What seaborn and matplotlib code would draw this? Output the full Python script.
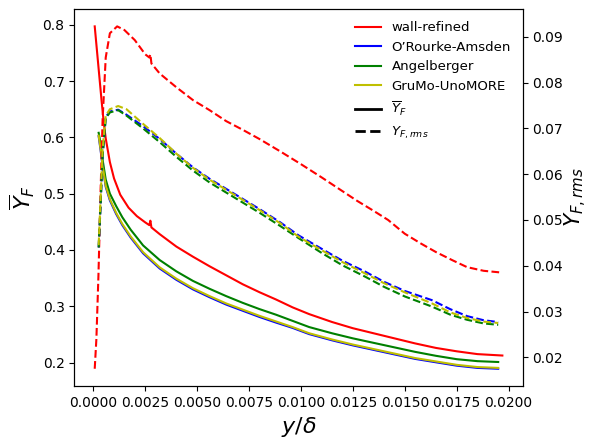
import numpy as np
import matplotlib
matplotlib.use("Agg")
import matplotlib.pyplot as plt
from matplotlib.lines import Line2D
import seaborn as sns

# mean fuel mass fraction (left axis)
x_wr_mean = [0.00007, 0.0002, 0.0003, 0.0004, 0.0005, 0.0006, 0.0008, 0.0010, 0.0013,
             0.0017, 0.0021, 0.0025, 0.0027, 0.00275, 0.0028, 0.0032, 0.0040, 0.0048,
             0.0056, 0.0064, 0.0072, 0.0080, 0.0088, 0.0096, 0.0104, 0.0115, 0.0125,
             0.0135, 0.0145, 0.0155, 0.0165, 0.0175, 0.0185, 0.0197]
wr_mean = [0.797, 0.745, 0.705, 0.665, 0.628, 0.598, 0.556, 0.527, 0.498,
           0.475, 0.460, 0.449, 0.444, 0.452, 0.440, 0.428, 0.406, 0.388,
           0.371, 0.355, 0.339, 0.325, 0.312, 0.298, 0.286, 0.272, 0.261,
           0.252, 0.243, 0.234, 0.226, 0.220, 0.215, 0.2125]

x_wm_mean = [0.00026, 0.00035, 0.00045, 0.0006, 0.0008, 0.0011, 0.0014, 0.0018, 0.0024,
             0.0032, 0.0040, 0.0048, 0.0056, 0.0064, 0.0072, 0.0080, 0.0088, 0.0096,
             0.0104, 0.0115, 0.0125, 0.0135, 0.0145, 0.0155, 0.0165, 0.0175, 0.0185,
             0.0195]
ora_mean = [0.602, 0.578, 0.548, 0.512, 0.488, 0.464, 0.444, 0.422, 0.394,
            0.367, 0.347, 0.330, 0.316, 0.303, 0.292, 0.281, 0.271, 0.2615,
            0.2505, 0.2395, 0.2305, 0.2225, 0.2145, 0.2065, 0.2005, 0.1945, 0.1905,
            0.1890]
ang_mean = [0.608, 0.590, 0.560, 0.525, 0.500, 0.478, 0.458, 0.436, 0.408,
            0.382, 0.362, 0.345, 0.331, 0.318, 0.306, 0.295, 0.285, 0.274,
            0.263, 0.252, 0.243, 0.235, 0.227, 0.219, 0.212, 0.206, 0.2025,
            0.2010]
gru_mean = [0.603, 0.580, 0.550, 0.514, 0.490, 0.466, 0.446, 0.424, 0.396,
            0.369, 0.349, 0.332, 0.318, 0.305, 0.294, 0.283, 0.273, 0.263,
            0.252, 0.241, 0.232, 0.224, 0.216, 0.208, 0.202, 0.196, 0.192,
            0.1905]

# rms fluctuation (right axis)
x_wr_rms = [0.00007, 0.00015, 0.00025, 0.00035, 0.00045, 0.0006, 0.0008, 0.00115, 0.0015,
            0.0020, 0.0025, 0.0027, 0.00275, 0.0028, 0.0032, 0.0040, 0.0048, 0.0056,
            0.0064, 0.0072, 0.0080, 0.0090, 0.0100, 0.0110, 0.0120, 0.0127, 0.0135,
            0.0142, 0.0150, 0.0158, 0.0165, 0.0173, 0.0180, 0.0188, 0.0197]
wr_rms = [0.0175, 0.0240, 0.0380, 0.0560, 0.0720, 0.0855, 0.0908, 0.0923, 0.0915,
          0.0893, 0.0862, 0.0855, 0.0862, 0.0842, 0.0820, 0.0790, 0.0762, 0.0740,
          0.0716, 0.0697, 0.0677, 0.0650, 0.0622, 0.0593, 0.0563, 0.0542, 0.0520,
          0.0500, 0.0470, 0.0448, 0.0430, 0.0412, 0.0397, 0.0389, 0.0385]

x_wm_rms = [0.00026, 0.00035, 0.00045, 0.0006, 0.0008, 0.0012, 0.0016, 0.0024, 0.0032,
            0.0040, 0.0048, 0.0056, 0.0064, 0.0072, 0.0080, 0.0090, 0.0099, 0.0110,
            0.0120, 0.0131, 0.0140, 0.0150, 0.0163, 0.0172, 0.0180, 0.0188, 0.0195]
ora_rms = [0.0440, 0.0530, 0.0640, 0.0725, 0.0737, 0.0741, 0.0730, 0.0705, 0.0677,
           0.0645, 0.0615, 0.0590, 0.0568, 0.0546, 0.0524, 0.0495, 0.0466, 0.0437,
           0.0411, 0.0387, 0.0365, 0.0345, 0.0325, 0.0305, 0.0290, 0.0281, 0.0277]
ang_rms = [0.0440, 0.0530, 0.0640, 0.0722, 0.0735, 0.0740, 0.0728, 0.0700, 0.0670,
           0.0638, 0.0608, 0.0582, 0.0560, 0.0538, 0.0516, 0.0487, 0.0460, 0.0428,
           0.0401, 0.0376, 0.0354, 0.0333, 0.0311, 0.0293, 0.0282, 0.0274, 0.0271]
gru_rms = [0.0445, 0.0545, 0.0655, 0.0728, 0.0742, 0.0749, 0.0742, 0.0710, 0.0679,
           0.0645, 0.0614, 0.0588, 0.0566, 0.0544, 0.0522, 0.0493, 0.0463, 0.0434,
           0.0408, 0.0383, 0.0362, 0.0342, 0.0318, 0.0298, 0.0286, 0.0278, 0.0275]

labels = ["wall-refined", "O\u2019Rourke-Amsden", "Angelberger", "GruMo-UnoMORE"]
colors = ["r", "b", "g", "y"]

mean_sets = [(x_wr_mean, wr_mean), (x_wm_mean, ora_mean), (x_wm_mean, ang_mean), (x_wm_mean, gru_mean)]
rms_sets = [(x_wr_rms, wr_rms), (x_wm_rms, ora_rms), (x_wm_rms, ang_rms), (x_wm_rms, gru_rms)]

fig, ax = plt.subplots(figsize=(5.9, 4.41), dpi=100)
fig.subplots_adjust(left=0.126, right=0.886, bottom=0.125, top=0.979)
ax2 = ax.twinx()

for (xs, ys), c in zip(mean_sets, colors):
    sns.lineplot(x=xs, y=ys, ax=ax, color=c, lw=1.5)
for (xs, ys), c in zip(rms_sets, colors):
    sns.lineplot(x=xs, y=ys, ax=ax2, color=c, lw=1.5, linestyle="--")

ax.set_xlabel(r"$y/\delta$", fontsize=16)
ax.set_ylabel(r"$\overline{Y}_F$", fontsize=16)
ax2.set_ylabel(r"$Y_{F,rms}$", fontsize=15.5, labelpad=0)
ax.tick_params(labelsize=10)
ax2.tick_params(labelsize=10)

handles = [Line2D([], [], color=c, lw=1.5) for c in colors]
handles += [Line2D([], [], color="k", lw=2), Line2D([], [], color="k", lw=2, linestyle="--")]
leg_labels = labels + [r"$\overline{Y}_F$", r"$Y_{F,rms}$"]
ax2.legend(handles, leg_labels, loc="upper right", frameon=False, fontsize=9.5)

fig.savefig("out.png", dpi=100)
